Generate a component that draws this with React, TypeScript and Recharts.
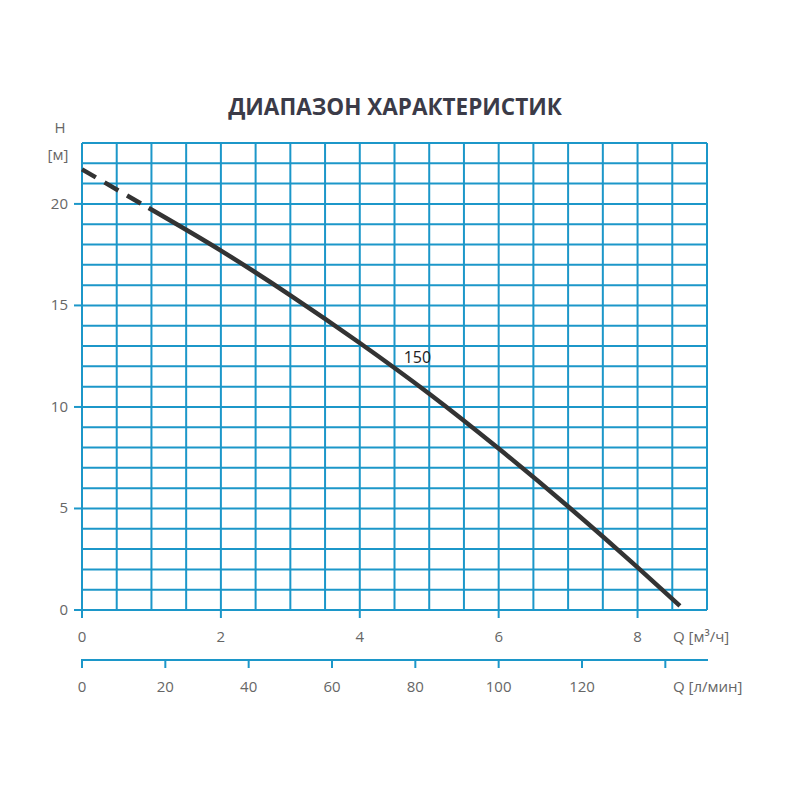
import { LineChart, Line, XAxis, YAxis, CartesianGrid, ReferenceDot } from 'recharts'

// pump curve, Q in m³/h, H in m
const dashedFlow = [0, 0.96]
const dashedHead = [21.7, 19.8]
const solidFlow = [0.96, 2, 3, 4, 5, 6, 7, 8, 8.61]
const solidHead = [19.8, 17.7, 15.5, 13.15, 10.65, 7.95, 5.1, 2.1, 0.2]

const flowGrid = [0, 0.5, 1, 1.5, 2, 2.5, 3, 3.5, 4, 4.5, 5, 5.5, 6, 6.5, 7, 7.5, 8, 8.5, 9]
const flowLabels = [0, 2, 4, 6, 8]
const headGrid = [0, 1, 2, 3, 4, 5, 6, 7, 8, 9, 10, 11, 12, 13, 14, 15, 16, 17, 18, 19, 20, 21, 22, 23]
const headLabels = [0, 5, 10, 15, 20]
const lminTicks = [0, 20, 40, 60, 80, 100, 120, 140]
const lminLabels = [0, 20, 40, 60, 80, 100, 120]

const curveName = '150'
const title = 'ДИАПАЗОН ХАРАКТЕРИСТИК'

const dashedData = dashedFlow.map((q, i) => ({ q, h: dashedHead[i] }))
const solidData = solidFlow.map((q, i) => ({ q, h: solidHead[i] }))
// same curve in l/min, only so the second axis has a series bound to it
const lminData = solidFlow.map((q, i) => ({ lmin: (q * 1000) / 60, h: solidHead[i] }))

const gridColor = '#1c97c9'
const labelColor = '#666'
const font = '"Open Sans", sans-serif'
const tickFont = 15

const chartW = 800
const chartH = 760
const margin = { top: 135, right: 101, bottom: 68, left: 0 }
const yAxisW = 74
const plotW = chartW - margin.right - margin.left - yAxisW

const FlowTick = ({ x, y, payload }: any) => {
  if (!flowLabels.includes(payload.value)) return null
  return (
    <g>
      <line x1={x} x2={x} y1={y} y2={y + 8} stroke={gridColor} strokeWidth={2} />
      <text x={x} y={y + 32} textAnchor="middle" fontSize={tickFont} fill={labelColor} fontFamily={font}>
        {payload.value}
      </text>
    </g>
  )
}

const LminTick = ({ x, y, payload }: any) => (
  <g>
    {payload.value === 0 && (
      <line x1={x - 1} x2={x + plotW + 1} y1={y} y2={y} stroke={gridColor} strokeWidth={2} />
    )}
    <line x1={x} x2={x} y1={y} y2={y + 8} stroke={gridColor} strokeWidth={2} />
    {lminLabels.includes(payload.value) && (
      <text x={x} y={y + 32} textAnchor="middle" fontSize={tickFont} fill={labelColor} fontFamily={font}>
        {payload.value}
      </text>
    )}
  </g>
)

const HeadTick = ({ x, y, payload }: any) => {
  if (!headLabels.includes(payload.value)) return null
  return (
    <g>
      <line x1={x - 8} x2={x} y1={y} y2={y} stroke={gridColor} strokeWidth={2} />
      <text x={x - 14} y={y + 5} textAnchor="end" fontSize={tickFont} fill={labelColor} fontFamily={font}>
        {payload.value}
      </text>
    </g>
  )
}

export default function App() {
  return (
    <div style={{ position: 'relative', width: chartW, height: chartH, background: '#fff' }}>
      <LineChart width={chartW} height={chartH} margin={margin}>
        <CartesianGrid stroke={gridColor} strokeWidth={2} fill="none" />
        <XAxis
          xAxisId={0}
          dataKey="q"
          type="number"
          domain={[0, 9]}
          ticks={flowGrid}
          interval={0}
          height={50}
          axisLine={false}
          tickLine={false}
          tickSize={0}
          tickMargin={0}
          tick={<FlowTick />}
        />
        <XAxis
          xAxisId="lmin"
          dataKey="lmin"
          type="number"
          domain={[0, 150]}
          allowDataOverflow
          ticks={lminTicks}
          interval={0}
          height={40}
          axisLine={false}
          tickLine={false}
          tickSize={0}
          tickMargin={0}
          tick={<LminTick />}
        />
        <YAxis
          type="number"
          domain={[0, 23]}
          ticks={headGrid}
          interval={0}
          width={yAxisW}
          axisLine={false}
          tickLine={false}
          tickSize={0}
          tickMargin={0}
          tick={<HeadTick />}
        />
        <Line
          xAxisId="lmin"
          data={lminData}
          dataKey="h"
          type="monotone"
          stroke="none"
          strokeOpacity={0}
          dot={false}
          activeDot={false}
          isAnimationActive={false}
        />
        <Line
          data={dashedData}
          dataKey="h"
          type="monotone"
          stroke="#333"
          strokeWidth={4.5}
          strokeDasharray="16 10"
          dot={false}
          isAnimationActive={false}
        />
        <Line
          data={solidData}
          dataKey="h"
          type="monotone"
          stroke="#333"
          strokeWidth={4.5}
          dot={false}
          isAnimationActive={false}
        />
        <ReferenceDot
          x={4.83}
          y={12.45}
          r={0}
          label={{ value: curveName, position: 'center', fill: '#222', fontSize: 16, fontFamily: font }}
        />
      </LineChart>
      <svg
        width={chartW}
        height={chartH}
        style={{ position: 'absolute', left: 0, top: 0, pointerEvents: 'none' }}
      >
        <text x={387} y={107} textAnchor="middle" fontSize={22.5} fontWeight="bold" fill="#3b3b48" fontFamily={font}>
          {title}
        </text>
        <text x={52} y={125} textAnchor="middle" fontSize={tickFont} fill={labelColor} fontFamily={font}>H</text>
        <text x={50} y={152} textAnchor="middle" fontSize={tickFont} fill={labelColor} fontFamily={font}>[м]</text>
        <text x={665} y={634} fontSize={tickFont} fill={labelColor} fontFamily={font}>Q [м³/ч]</text>
        <text x={665} y={684} fontSize={tickFont} fill={labelColor} fontFamily={font}>Q [л/мин]</text>
      </svg>
    </div>
  )
}
